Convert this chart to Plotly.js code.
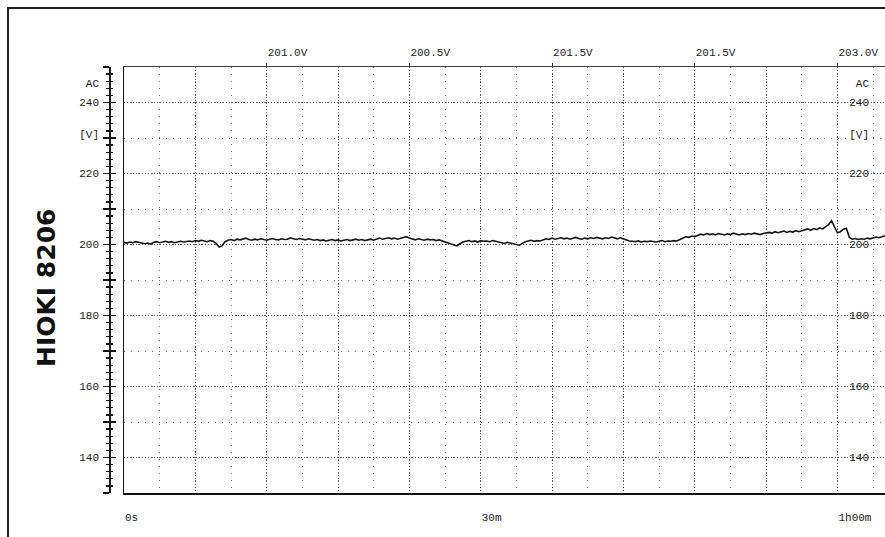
<!DOCTYPE html>
<html>
<head>
<meta charset="utf-8">
<script src="https://cdn.plot.ly/plotly-3.0.1.min.js"></script>
<style>
  html, body { margin: 0; padding: 0; background: #ffffff; }
  #chart { width: 885px; height: 537px; }
</style>
</head>
<body>
<div id="chart"></div>
<script>
// ---- data (AC voltage, V) ----
const sampleStep = 0.25; // minutes between readings
const voltage = [
  200.6, 200.4, 200.7, 200.5, 200.8, 200.6, 200.3, 200.2, 200.4, 200.1,
  200.6, 200.8, 200.5, 200.7, 200.9, 200.6, 200.8, 200.5, 200.7, 200.9,
  200.7, 200.8, 201.0, 200.8, 201.1, 200.9, 201.2, 201.0, 200.8, 201.1,
  200.9, 200.3, 199.3, 199.6, 200.8, 201.2, 201.4, 201.1, 201.5, 201.3,
  201.6, 201.8, 201.4, 201.2, 201.5, 201.3, 201.6, 201.4, 201.2, 201.5,
  201.7, 201.4, 201.3, 201.6, 201.4, 201.5, 201.9, 201.6, 201.4, 201.7,
  201.5, 201.3, 201.6, 201.4, 201.2, 201.4, 201.1, 201.3, 201.0, 201.2,
  201.4, 201.1, 201.3, 201.0, 201.2, 201.4, 201.1, 201.3, 201.5, 201.2,
  201.4, 201.1, 201.3, 201.5, 201.2, 201.6, 201.8, 201.5, 201.7, 201.9,
  201.6, 201.8, 201.5, 201.7, 202.0, 202.2, 201.8, 201.5, 201.3, 201.6,
  201.4, 201.2, 201.5, 201.3, 201.4, 201.1, 201.3, 201.0, 200.9, 200.6,
  200.3, 200.0, 199.6, 200.2, 200.7, 200.9, 201.1, 200.8, 201.0, 200.7,
  201.1, 200.9, 201.0, 200.8, 201.1, 200.9, 200.7, 200.5, 200.3, 200.6,
  200.4, 200.2, 200.0, 199.8, 200.3, 200.8, 201.0, 201.2, 200.9, 201.1,
  201.0, 201.3, 201.6, 201.4, 201.8, 201.5, 201.7, 201.9, 201.6, 201.8,
  201.5, 201.7, 202.0, 201.7, 201.5, 201.8, 201.6, 201.9, 201.7, 202.0,
  201.8, 201.6, 201.9, 201.7, 202.1, 201.8, 201.6, 201.9, 201.7, 201.3,
  201.0, 200.9, 200.8, 201.0, 200.7, 200.9, 200.8, 201.0, 200.9, 200.7,
  200.9, 201.1, 200.8, 201.0, 200.9, 201.1, 201.0, 201.4, 201.9, 202.2,
  202.0, 202.4, 202.2, 202.6, 202.9, 202.7, 203.1, 202.8, 203.0, 202.7,
  203.1, 202.9, 202.7, 203.0, 202.8, 203.2, 202.9, 202.7, 203.0, 202.8,
  203.1, 202.9, 203.2, 203.0, 202.8, 203.1, 203.3, 203.4, 203.2, 203.6,
  203.3, 203.5, 203.8, 203.4, 203.7, 203.5, 203.9, 203.6, 203.8, 204.1,
  204.4, 204.0, 204.5, 204.2, 204.7, 204.4, 204.9, 205.6, 206.7, 205.0,
  203.3, 203.6, 204.3, 204.6, 202.0, 201.5, 201.7, 201.4, 201.6, 201.5,
  201.8, 201.6, 201.9, 202.1, 201.9, 202.3, 202.5
];
const timeMin = voltage.map((_, i) => i * sampleStep);

// bottom time-axis labels
const timeTickVals = [0, 6, 12, 18, 24, 30, 36, 42, 48, 54, 60];
const timeTickText = ['0s', '', '', '', '', '30m', '', '', '', '', '1h00m'];

// top interval-average labels
const topTickVals = [12, 24, 36, 48, 60];
const topTickText = ['201.0V', '200.5V', '201.5V', '201.5V', '203.0V'];

// voltage scale labels (left and right)
const voltLabelVals = [140, 160, 180, 200, 220, 231, 240, 245.4];
const voltLabelText = ['140', '160', '180', '200', '220', '[V]', '240', 'AC'];
const voltGridMajor = [140, 160, 180, 200, 220, 240];

const FONT = 'Liberation Mono, DejaVu Sans Mono, monospace';
const INK = '#1c1c1c';
const X_RANGE = [0, 64];
const Y_RANGE = [130, 250];
const X_DOMAIN = [15 / 776, 1];

// scale-bar tick positions (every 10 V long, every 2 V short)
const longTickVals = [];
for (let v = Y_RANGE[0]; v <= Y_RANGE[1]; v += 10) longTickVals.push(v);
const shortTickVals = [];
for (let v = Y_RANGE[0]; v <= Y_RANGE[1]; v += 2) if (v % 10 !== 0) shortTickVals.push(v);

const trace = {
  x: timeMin,
  y: voltage,
  type: 'scatter',
  mode: 'lines',
  line: { color: '#141414', width: 1.6 },
  hoverinfo: 'skip',
  xaxis: 'x',
  yaxis: 'y'
};

function tickAxis(side, vals, len, withLine) {
  return {
    overlaying: 'y',
    anchor: 'free',
    position: 0,
    side: 'left',
    range: Y_RANGE,
    showgrid: false,
    zeroline: false,
    showticklabels: false,
    tickmode: 'array',
    tickvals: vals,
    ticks: side,
    ticklen: len,
    tickwidth: 1.3,
    tickcolor: '#111111',
    showline: withLine,
    linecolor: INK,
    linewidth: 1.5
  };
}

const layout = {
  width: 885,
  height: 537,
  margin: { l: 109, r: 0, t: 67, b: 44 },
  paper_bgcolor: '#ffffff',
  plot_bgcolor: '#ffffff',
  showlegend: false,
  font: { family: FONT, size: 11, color: INK },
  xaxis: {
    domain: X_DOMAIN,
    range: X_RANGE,
    anchor: 'y',
    tickmode: 'array',
    tickvals: timeTickVals,
    ticktext: timeTickText,
    ticks: '',
    ticklabelposition: 'outside right',
    ticklabelstandoff: 13,
    tickfont: { family: FONT, size: 11, color: INK },
    showline: true,
    linecolor: '#111111',
    linewidth: 2,
    zeroline: false,
    showgrid: true,
    gridcolor: '#555555',
    gridwidth: 1,
    griddash: '1px,2px',
    minor: { tickmode: 'linear', tick0: 0, dtick: 3, showgrid: true, gridcolor: '#6a6a6a', gridwidth: 1, griddash: '1px,6px' }
  },
  xaxis2: {
    overlaying: 'x',
    domain: X_DOMAIN,
    range: X_RANGE,
    anchor: 'y',
    side: 'top',
    tickmode: 'array',
    tickvals: topTickVals,
    ticktext: topTickText,
    ticks: 'outside',
    ticklen: 3,
    tickcolor: '#333333',
    ticklabelposition: 'outside right',
    ticklabelstandoff: 6,
    tickfont: { family: FONT, size: 11, color: INK },
    showline: true,
    linecolor: '#444444',
    linewidth: 1,
    showgrid: false,
    zeroline: false
  },
  yaxis: {
    domain: [0, 1],
    range: Y_RANGE,
    anchor: 'x',
    tickmode: 'array',
    tickvals: voltGridMajor,
    ticks: '',
    showticklabels: false,
    showline: true,
    linecolor: '#111111',
    linewidth: 1.5,
    zeroline: false,
    showgrid: true,
    gridcolor: '#555555',
    gridwidth: 1,
    griddash: '1px,2px',
    minor: { tickmode: 'linear', tick0: 130, dtick: 10, showgrid: true, gridcolor: '#6a6a6a', gridwidth: 1, griddash: '1px,6px' }
  },
  yaxis2: tickAxis('outside', longTickVals, 6, true),
  yaxis3: tickAxis('inside', longTickVals, 6, false),
  yaxis6: tickAxis('outside', shortTickVals, 3, false),
  yaxis7: tickAxis('inside', shortTickVals, 3, false),
  yaxis4: {
    overlaying: 'y',
    anchor: 'free',
    position: 0,
    side: 'left',
    range: Y_RANGE,
    tickmode: 'array',
    tickvals: voltLabelVals,
    ticktext: voltLabelText,
    ticks: '',
    ticklabelstandoff: 10,
    tickfont: { family: FONT, size: 11, color: INK },
    showline: false,
    showgrid: false,
    zeroline: false
  },
  yaxis5: {
    overlaying: 'y',
    anchor: 'free',
    position: (873 - 109) / 776,
    side: 'left',
    range: Y_RANGE,
    tickmode: 'array',
    tickvals: voltLabelVals,
    ticktext: voltLabelText,
    ticks: '',
    ticklabelstandoff: 4,
    tickfont: { family: FONT, size: 11, color: INK },
    showline: false,
    showgrid: false,
    zeroline: false
  },
  shapes: [
    {
      type: 'rect', xref: 'paper', yref: 'paper',
      x0: (8 - 109) / 776, x1: 1.2,
      y0: -0.4, y1: (493 - 8) / 426,
      line: { color: '#222222', width: 2 },
      fillcolor: 'rgba(0,0,0,0)',
      layer: 'below'
    }
  ],
  annotations: [
    {
      text: 'HIOKI 8206',
      xref: 'paper', yref: 'paper',
      x: (46 - 109) / 776, y: (493 - 288) / 426,
      xanchor: 'center', yanchor: 'middle',
      textangle: -90,
      showarrow: false,
      font: { family: 'DejaVu Sans, Arial, sans-serif', size: 25, weight: 700, color: '#111111' }
    }
  ]
};

// invisible holder traces so every overlay axis is drawn
const axisHolders = ['x2', 'y2', 'y3', 'y4', 'y5', 'y6', 'y7'].map(ax => {
  const isX = ax[0] === 'x';
  return {
    x: [null], y: [null], type: 'scatter', mode: 'lines', hoverinfo: 'skip', showlegend: false,
    xaxis: isX ? ax : 'x', yaxis: isX ? 'y' : ax
  };
});

Plotly.newPlot('chart', axisHolders.concat([trace]), layout, { staticPlot: true, displayModeBar: false });
</script>
</body>
</html>
